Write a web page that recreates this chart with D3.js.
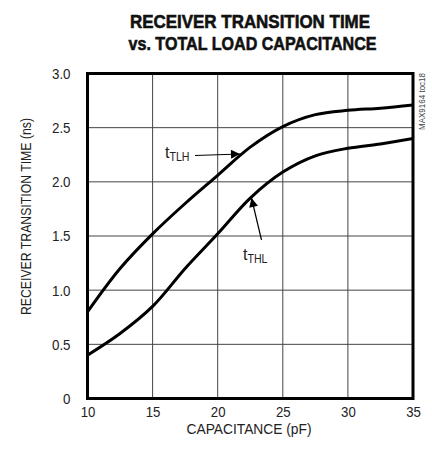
<!DOCTYPE html>
<html><head><meta charset="utf-8">
<script src="https://cdn.jsdelivr.net/npm/d3@7"></script>
<style>
body{margin:0;background:#fff;}
svg{display:block;}
text{font-family:"Liberation Sans",Arial,sans-serif;fill:#222;}
</style></head>
<body><svg id="c" width="432" height="455"></svg>
<script>
const capacitance = [10, 12.5, 15, 17.5, 20, 22.5, 25, 27.5, 30, 32.5, 35];
const tTLH = [0.80, 1.20, 1.52, 1.80, 2.06, 2.32, 2.51, 2.62, 2.66, 2.68, 2.71];
const tTHL = [0.40, 0.60, 0.85, 1.20, 1.52, 1.85, 2.09, 2.24, 2.31, 2.35, 2.40];
const xTicks = [10, 15, 20, 25, 30, 35];
const yTicks = [0, 0.5, 1.0, 1.5, 2.0, 2.5, 3.0];
const yTickLabels = ["0", "0.5", "1.0", "1.5", "2.0", "2.5", "3.0"];

const svg = d3.select("#c");
const L = 87.5, R = 413, T = 73.5, B = 398.5;
const x = d3.scaleLinear().domain([10, 35]).range([L, R]);
const y = d3.scaleLinear().domain([0, 3]).range([B, T]);

function squeeze(sel, f) {
  sel.each(function() {
    const w = this.getComputedTextLength();
    d3.select(this).attr("textLength", w * f).attr("lengthAdjust", "spacingAndGlyphs");
  });
}

// title
svg.append("text").attr("x", 250).attr("y", 28).attr("text-anchor", "middle")
  .style("font-size", "19px").style("font-weight", "bold").style("fill", "#111")
  .style("stroke", "#111").style("stroke-width", "0.6px")
  .attr("textLength", 240).attr("lengthAdjust", "spacingAndGlyphs")
  .text("RECEIVER TRANSITION TIME");
svg.append("text").attr("x", 252.5).attr("y", 50).attr("text-anchor", "middle")
  .style("font-size", "19px").style("font-weight", "bold").style("fill", "#111")
  .style("stroke", "#111").style("stroke-width", "0.6px")
  .attr("textLength", 248).attr("lengthAdjust", "spacingAndGlyphs")
  .text("vs. TOTAL LOAD CAPACITANCE");

// grid
svg.append("g").selectAll("line").data(xTicks.slice(1, -1)).join("line")
  .attr("x1", d => x(d)).attr("x2", d => x(d)).attr("y1", T).attr("y2", B)
  .attr("stroke", "#444").attr("stroke-width", 1);
svg.append("g").selectAll("line").data(yTicks.slice(1, -1)).join("line")
  .attr("y1", d => y(d)).attr("y2", d => y(d)).attr("x1", L).attr("x2", R)
  .attr("stroke", "#444").attr("stroke-width", 1);

// axes labels via d3 axes (no lines)
const xAxis = svg.append("g").attr("transform", `translate(0,${B})`)
  .call(d3.axisBottom(x).tickValues(xTicks).tickSize(0).tickPadding(8).tickFormat(d3.format("d")));
xAxis.select(".domain").remove();
xAxis.selectAll("text").style("font-size", "15px").style("font-family", '"Liberation Sans",Arial,sans-serif').attr("fill", "#222");
squeeze(xAxis.selectAll("text"), 0.88);

const yAxis = svg.append("g").attr("transform", `translate(${L},0)`)
  .call(d3.axisLeft(y).tickValues(yTicks).tickSize(0).tickPadding(17).tickFormat((d, i) => yTickLabels[i]));
yAxis.select(".domain").remove();
yAxis.selectAll("text").style("font-size", "15.5px").style("font-family", '"Liberation Sans",Arial,sans-serif').attr("fill", "#222");
squeeze(yAxis.selectAll("text"), 0.86);

// axis titles
svg.append("text").attr("x", 249).attr("y", 434).attr("text-anchor", "middle")
  .style("font-size", "14.5px").attr("textLength", 125).attr("lengthAdjust", "spacingAndGlyphs")
  .text("CAPACITANCE (pF)");
svg.append("text").attr("transform", "translate(31,216.5) rotate(-90)").attr("text-anchor", "middle")
  .style("font-size", "15px").attr("textLength", 197).attr("lengthAdjust", "spacingAndGlyphs")
  .text("RECEIVER TRANSITION TIME (ns)");

// curves
const line = d3.line().x(d => x(d[0])).y(d => y(d[1])).curve(d3.curveCatmullRom);
svg.append("clipPath").attr("id", "pc").append("rect")
  .attr("x", L).attr("y", T).attr("width", R - L).attr("height", B - T);
[tTLH, tTHL].forEach(s => {
  svg.append("path").attr("clip-path", "url(#pc)")
    .datum(capacitance.map((c, i) => [c, s[i]]))
    .attr("d", line).attr("fill", "none").attr("stroke", "#000").attr("stroke-width", 3);
});

// border
svg.append("rect").attr("x", L).attr("y", T).attr("width", R - L).attr("height", B - T)
  .attr("fill", "none").attr("stroke", "#000").attr("stroke-width", 3);

// arrowhead
svg.append("defs").append("marker").attr("id", "ah").attr("viewBox", "0 0 10 10")
  .attr("refX", 10).attr("refY", 5).attr("markerWidth", 18).attr("markerHeight", 9)
  .attr("markerUnits", "userSpaceOnUse").attr("orient", "auto")
  .append("path").attr("d", "M0,0L10,5L0,10Z").attr("fill", "#000");

const t1 = svg.append("text").attr("x", 165).attr("y", 158).style("font-size", "16px");
t1.append("tspan").text("t");
t1.append("tspan").attr("dy", 3).style("font-size", "13px").attr("textLength", 20).attr("lengthAdjust", "spacingAndGlyphs").text("TLH");
svg.append("line").attr("x1", 195).attr("y1", 155.5).attr("x2", 240).attr("y2", 154)
  .attr("stroke", "#000").attr("stroke-width", 1.2).attr("marker-end", "url(#ah)");

const t2 = svg.append("text").attr("x", 243).attr("y", 260).style("font-size", "16px");
t2.append("tspan").text("t");
t2.append("tspan").attr("dy", 3).style("font-size", "13px").attr("textLength", 20).attr("lengthAdjust", "spacingAndGlyphs").text("THL");
svg.append("line").attr("x1", 261.5).attr("y1", 240).attr("x2", 251.5).attr("y2", 198)
  .attr("stroke", "#000").attr("stroke-width", 1.2).attr("marker-end", "url(#ah)");

// side code
svg.append("text").attr("transform", "translate(425,73) rotate(-90)").attr("text-anchor", "end")
  .style("font-size", "9px").style("fill", "#444").attr("textLength", 57).attr("lengthAdjust", "spacingAndGlyphs")
  .text("MAX9164 toc18");
</script></body></html>
